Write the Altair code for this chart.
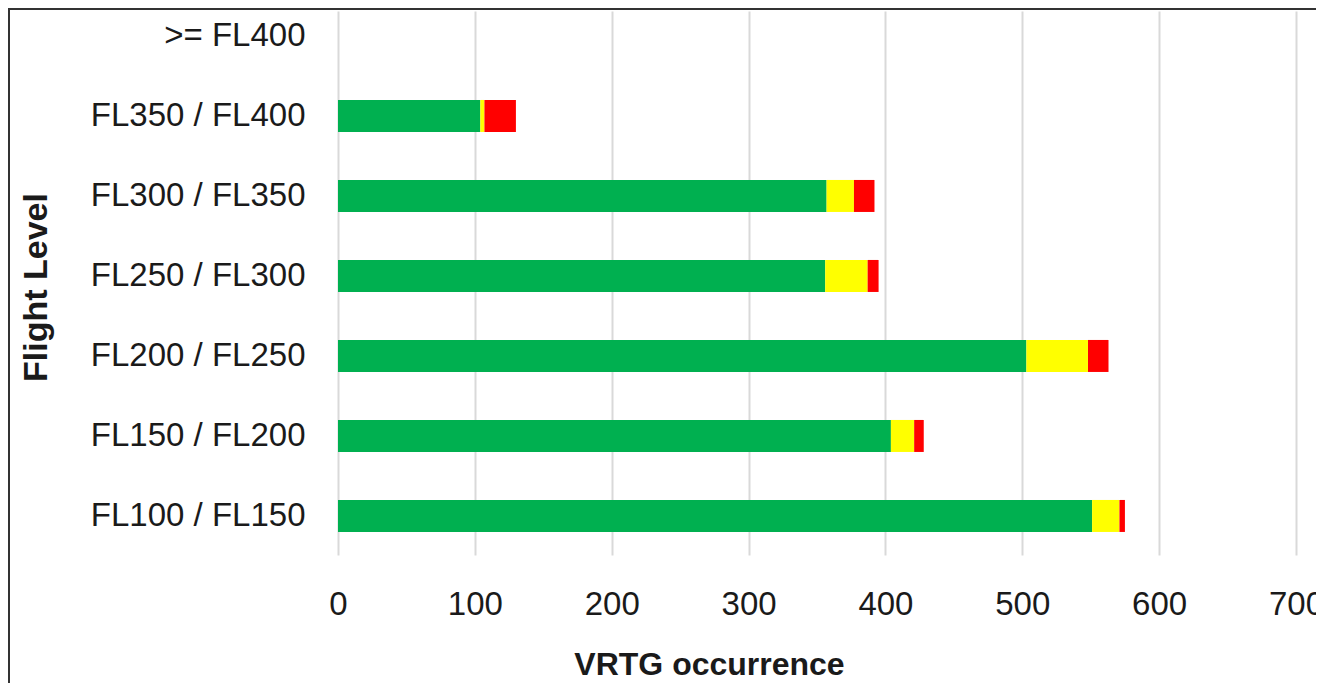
import altair as alt
import pandas as pd

levels = [">= FL400", "FL350 / FL400", "FL300 / FL350", "FL250 / FL300",
          "FL200 / FL250", "FL150 / FL200", "FL100 / FL150"]
green = [0, 104, 357, 356, 503, 404, 551]
yellow = [0, 3, 20, 31, 45, 17, 20]
red = [0, 23, 15, 8, 15, 7, 4]
series = ["Green", "Yellow", "Red"]
colors = ["#00b050", "#ffff00", "#ff0000"]
x_ticks = [0, 100, 200, 300, 400, 500, 600, 700]

rows = []
for i, lv in enumerate(levels):
    for j, (s, vals) in enumerate(zip(series, [green, yellow, red])):
        rows.append({"level": lv, "series": s, "order": j, "value": vals[i]})
df = pd.DataFrame(rows)

FONT = "Liberation Sans"
TXT = "#1a1a1a"

bars = alt.Chart(df).mark_bar().encode(
    x=alt.X(
        "value:Q", stack="zero",
        scale=alt.Scale(domain=[0, 700], nice=False, zero=True),
        axis=alt.Axis(
            values=x_ticks, title="VRTG occurrence", grid=True,
            gridColor="#d9d9d9", gridWidth=2, domain=False, ticks=False, tickSize=0,
            labelFont=FONT, labelFontSize=33, labelColor=TXT, labelPadding=59,
            labelBaseline="alphabetic", labelFlush=False, labelOverlap=False,
            titleFont=FONT, titleFontSize=32, titleFontWeight="bold", titleColor=TXT,
            titleX=371, titleY=119, titleAlign="center", titleBaseline="alphabetic",
        ),
    ),
    y=alt.Y(
        "level:N", sort=levels,
        scale=alt.Scale(domain=levels, paddingInner=0.6, paddingOuter=0.2, align=0.28),
        axis=alt.Axis(
            title="Flight Level", domain=False, ticks=False, tickSize=0, grid=False,
            labelFont=FONT, labelFontSize=33, labelColor=TXT, labelPadding=33,
            labelLimit=0,
            titleFont=FONT, titleFontSize=34, titleFontWeight="bold", titleColor=TXT,
            titleX=-302, titleY=276, titleAngle=270, titleAlign="center",
            titleBaseline="middle",
        ),
    ),
    color=alt.Color("series:N", scale=alt.Scale(domain=series, range=colors), legend=None),
    order=alt.Order("order:Q"),
)

frame_df = pd.DataFrame({"k": [0]})
frame = alt.Chart(frame_df).mark_rect(
    fill="transparent", stroke="#333333", strokeWidth=2
).encode(
    x=alt.value(-329), x2=alt.value(1100), y=alt.value(-2), y2=alt.value(800)
)

chart = alt.layer(bars, frame).properties(
    width=958, height=544,
    autosize=alt.AutoSizeParams(type="none"),
    padding={"left": 330, "top": 3, "right": 20, "bottom": 128},
    background="white",
).configure_view(stroke=None)

chart.save("out.html", embed_options={"renderer": "svg", "actions": False})
